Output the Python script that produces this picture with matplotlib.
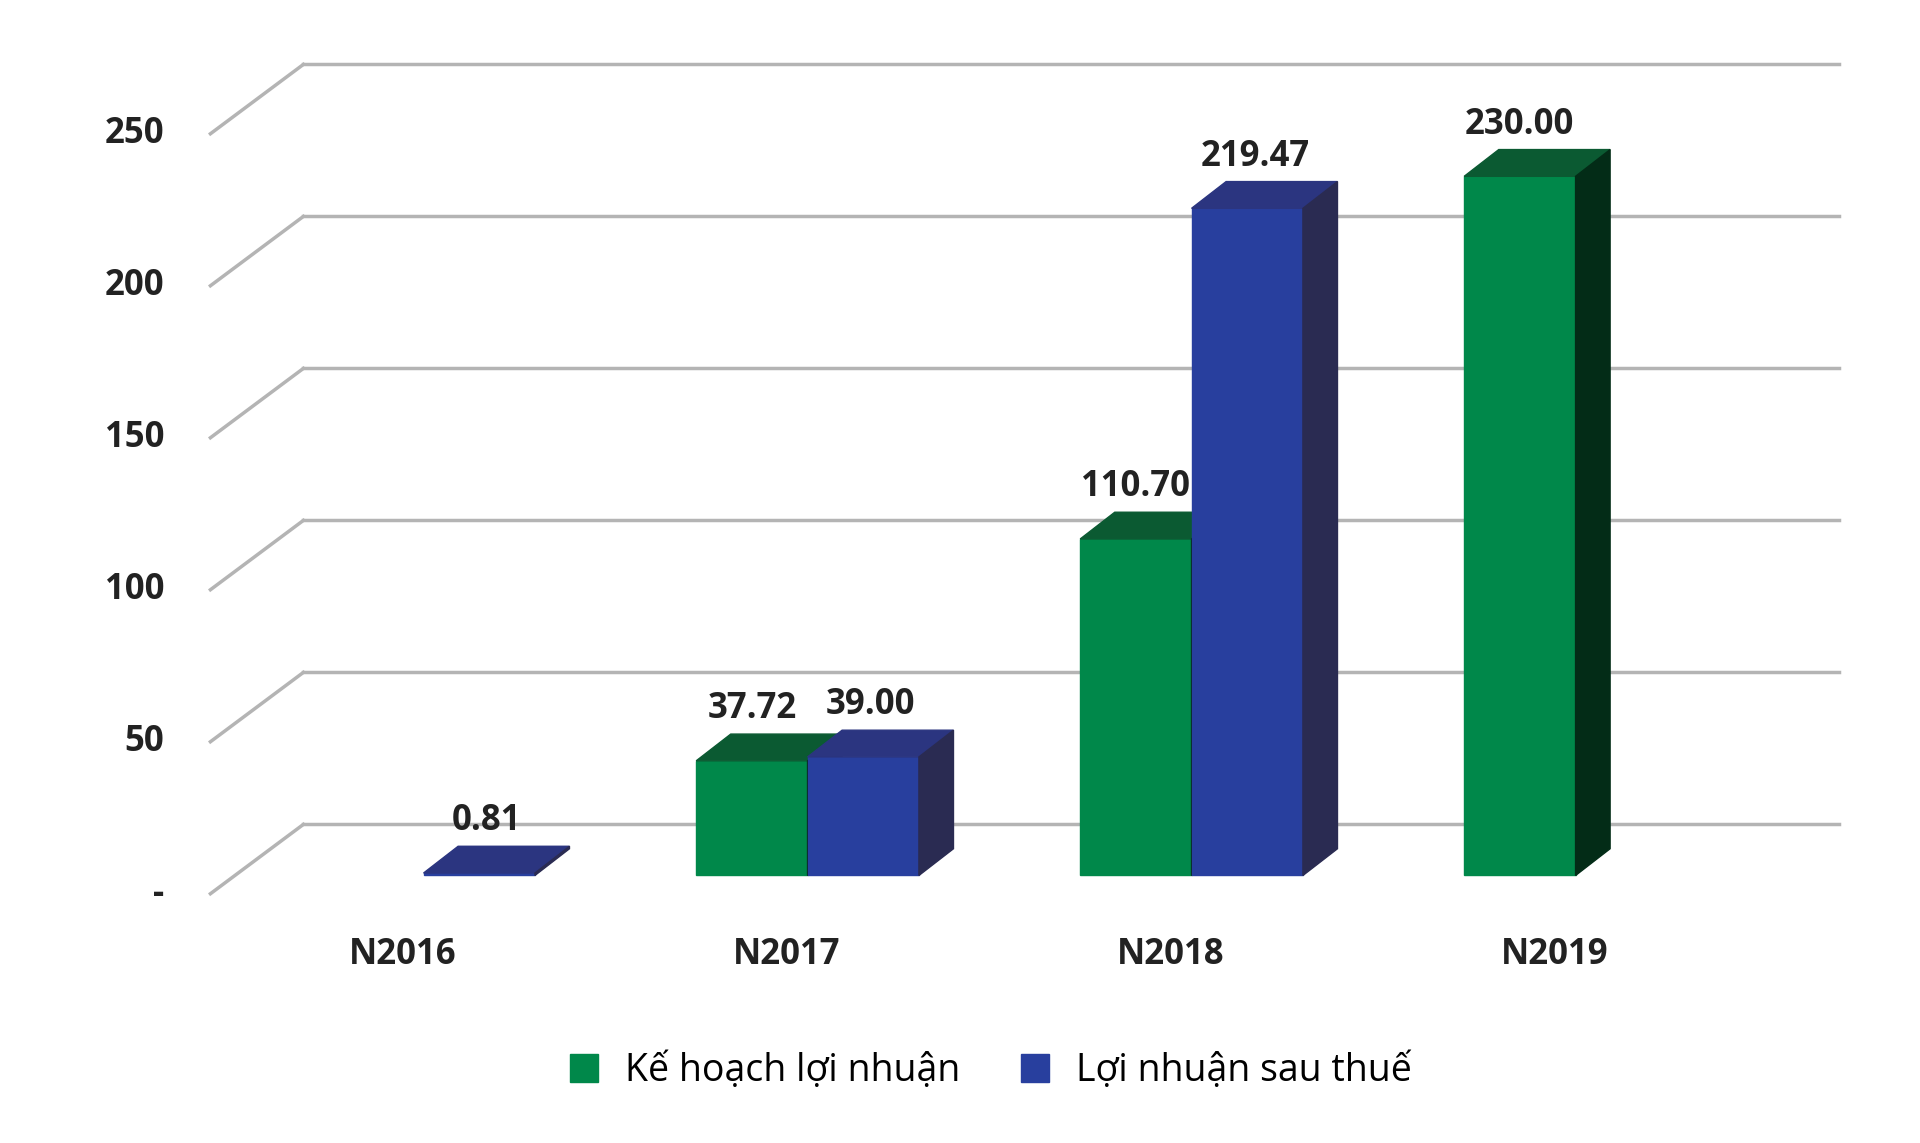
import matplotlib
matplotlib.use('Agg')
import matplotlib.pyplot as plt
from matplotlib.patches import Polygon
from matplotlib.lines import Line2D

categories = ['N2016', 'N2017', 'N2018', 'N2019']
ke_hoach = [None, 37.72, 110.70, 230.00]
loi_nhuan = [0.81, 39.00, 219.47, None]
y_ticks = [0, 50, 100, 150, 200, 250]
y_labels = ['-', '50', '100', '150', '200', '250']

plt.rcParams['font.family'] = ['Open Sans', 'DejaVu Sans']

green = ('#00884a', '#0b5a32', '#032c17')
blue = ('#283f9e', '#2b3580', '#2a2b52')

fig = plt.figure(figsize=(19.2, 11.43), dpi=100)
ax = fig.add_axes([0, 0, 1, 1])
ax.set_xlim(-1.048, 3.952)
ax.set_ylim(-88, 288)
ax.axis('off')

# perspective grid: back wall lines and diagonal to the front
wall_dy = 16.8
for v, lab in zip(y_ticks, y_labels):
    ax.plot([-0.258, 3.74], [v + wall_dy, v + wall_dy], color='#b4b4b4', lw=2.5, zorder=1)
    ax.plot([-0.5, -0.258], [v - 6, v + wall_dy], color='#b4b4b4', lw=2.5, zorder=1)
    ax.text(-0.62, v - 6, lab, ha='right', va='center', fontsize=25, fontweight='bold', color='#222222')

w = 0.29
ddx, ddy = 0.09, 8.8
shift = 0.055


def bar3d(x0, h, cols):
    front, top, side = cols
    ax.add_patch(Polygon([(x0, 0), (x0 + w, 0), (x0 + w, h), (x0, h)], color=front, zorder=3))
    ax.add_patch(Polygon([(x0, h), (x0 + w, h), (x0 + w + ddx, h + ddy), (x0 + ddx, h + ddy)], color=top, zorder=3))
    ax.add_patch(Polygon([(x0 + w, 0), (x0 + w + ddx, ddy), (x0 + w + ddx, h + ddy), (x0 + w, h)], color=side, zorder=3))


for i, cat in enumerate(categories):
    c = i + shift
    if ke_hoach[i] is not None:
        bar3d(c - w, ke_hoach[i], green)
        ax.text(c - w / 2 + 0.0, ke_hoach[i] + 17, f'{ke_hoach[i]:.2f}', ha='center', va='center',
                fontsize=25, fontweight='bold', color='#222222', zorder=4)
    if loi_nhuan[i] is not None:
        bar3d(c, loi_nhuan[i], blue)
        ax.text(c + w / 2 + 0.02, loi_nhuan[i] + 17, f'{loi_nhuan[i]:.2f}', ha='center', va='center',
                fontsize=25, fontweight='bold', color='#222222', zorder=4)
    ax.text(i, -26, cat, ha='center', va='center', fontsize=25, fontweight='bold', color='#222222')

handles = [Line2D([], [], marker='s', ls='', color=green[0], markersize=20),
           Line2D([], [], marker='s', ls='', color=blue[0], markersize=20)]
fig.legend(handles, ['Kế hoạch lợi nhuận', 'Lợi nhuận sau thuế'], loc='center',
           bbox_to_anchor=(0.51, 0.063), ncol=2, frameon=False, fontsize=27,
           handletextpad=0.1, columnspacing=1.0)

fig.savefig('out.png', dpi=100)
